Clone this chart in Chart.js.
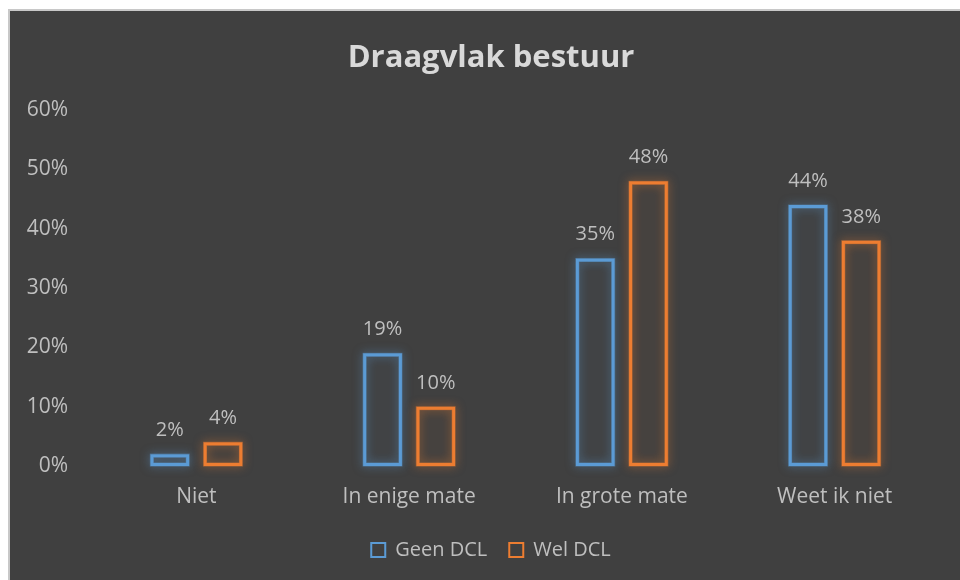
<!DOCTYPE html>
<html>
<head>
<meta charset="utf-8">
<script src="https://cdn.jsdelivr.net/npm/chart.js@4/dist/chart.umd.min.js"></script>
<style>
  html, body { margin: 0; padding: 0; background: #ffffff; }
  #frame { position: absolute; left: 8px; top: 9px; width: 952px; height: 571px; background: #c8c8c8; }
  #wrap { position: absolute; left: 10px; top: 11px; width: 950px; height: 569px; background: #404040; }
  canvas { display: block; }
</style>
</head>
<body>
<div id="frame"></div>
<div id="wrap"><canvas id="c" width="950" height="569"></canvas></div>
<script>
const categories = ["Niet", "In enige mate", "In grote mate", "Weet ik niet"];
const geenDCL = [2, 19, 35, 44];
const welDCL = [4, 10, 48, 38];
const seriesNames = ["Geen DCL", "Wel DCL"];
const yTicks = [0, 10, 20, 30, 40, 50, 60];

const FONT = "'Open Sans', 'Noto Sans', sans-serif";
const BLUE = "#5b9bd5";
const ORANGE = "#ed7d31";

const glowPlugin = {
  id: "glow",
  beforeDatasetsDraw(chart) {
    const ctx = chart.ctx;
    chart.data.datasets.forEach((ds, i) => {
      const meta = chart.getDatasetMeta(i);
      meta.data.forEach(el => {
        const p = el.getProps(["x", "y", "base", "width"], true);
        const left = p.x - p.width / 2;
        const top = Math.min(p.y, p.base);
        const h = Math.abs(p.base - p.y);
        ctx.save();
        ctx.shadowColor = ds.borderColor;
        ctx.shadowBlur = 10;
        ctx.strokeStyle = ds.borderColor;
        ctx.globalAlpha = 0.5;
        ctx.lineWidth = 4;
        ctx.strokeRect(left + 1.5, top + 1.5, p.width - 3, h - 3);
        ctx.restore();
      });
    });
  },
  afterDatasetsDraw(chart) {
    const ctx = chart.ctx;
    ctx.save();
    ctx.fillStyle = "#bfbfbf";
    ctx.font = "20px " + FONT;
    ctx.textAlign = "center";
    ctx.textBaseline = "alphabetic";
    chart.data.datasets.forEach((ds, i) => {
      const meta = chart.getDatasetMeta(i);
      meta.data.forEach((el, j) => {
        const p = el.getProps(["x", "y"], true);
        ctx.fillText(ds.data[j] + "%", p.x, p.y - 18);
      });
    });
    ctx.restore();
  }
};

new Chart(document.getElementById("c"), {
  type: "bar",
  data: {
    labels: categories,
    datasets: [
      { label: seriesNames[0], data: geenDCL, borderColor: BLUE, backgroundColor: "rgba(91,155,213,0.04)", borderWidth: 3, borderSkipped: false },
      { label: seriesNames[1], data: welDCL, borderColor: ORANGE, backgroundColor: "rgba(237,125,49,0.04)", borderWidth: 3, borderSkipped: false }
    ]
  },
  plugins: [glowPlugin],
  options: {
    responsive: false,
    animation: false,
    categoryPercentage: 0.5,
    barPercentage: 0.73,
    layout: { padding: { left: 15.5, right: 3.5, top: 0, bottom: 10 } },
    plugins: {
      title: {
        display: true,
        text: "Draagvlak bestuur",
        color: "#d9d9d9",
        font: { family: FONT, size: 31, weight: "bold" },
        padding: { top: 29, bottom: 33 }
      },
      legend: {
        position: "bottom",
        labels: {
          color: "#bfbfbf",
          font: { family: FONT, size: 20 },
          boxWidth: 14,
          boxHeight: 14,
          padding: 22,
          generateLabels(chart) {
            return chart.data.datasets.map((ds, i) => ({
              text: ds.label,
              fillStyle: "rgba(0,0,0,0)",
              strokeStyle: ds.borderColor,
              lineWidth: 2,
              fontColor: "#bfbfbf",
              datasetIndex: i,
              hidden: false
            }));
          }
        }
      },
      tooltip: { enabled: false }
    },
    scales: {
      x: {
        afterFit(s) { s.height = 52; },
        grid: { display: false, drawTicks: false },
        border: { display: false },
        ticks: { color: "#bfbfbf", font: { family: FONT, size: 21 }, padding: 18 }
      },
      y: {
        min: 0,
        max: 60,
        afterFit(s) { s.width = 64.5; },
        afterBuildTicks(s) { s.ticks = yTicks.map(v => ({ value: v })); },
        grid: { display: false, drawTicks: false },
        border: { display: false },
        ticks: { color: "#bfbfbf", font: { family: FONT, size: 21 }, padding: 22, callback: v => v + "%" }
      },
      yRight: {
        position: "right",
        min: 0,
        max: 60,
        afterFit(s) { s.width = 15.5; },
        grid: { display: false, drawTicks: false },
        border: { display: false },
        ticks: { display: false }
      }
    }
  }
});
</script>
</body>
</html>
